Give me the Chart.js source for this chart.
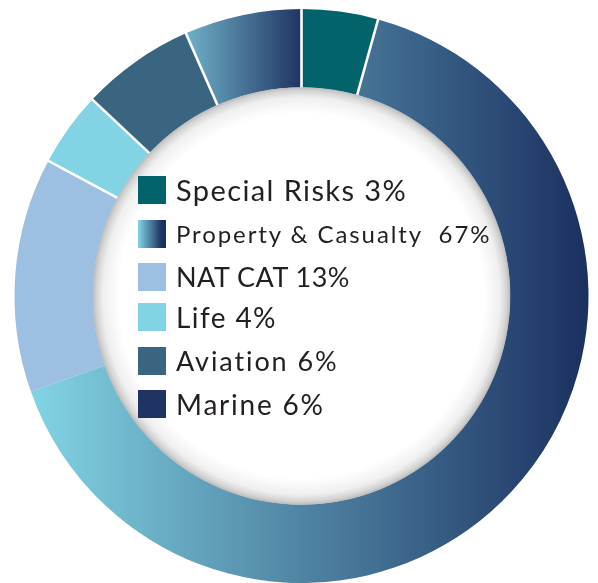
<!DOCTYPE html>
<html><head><meta charset="utf-8">
<script src="https://cdn.jsdelivr.net/npm/chart.js@4"></script>
<style>
html,body{margin:0;padding:0;background:#fff;}
#wrap{position:relative;width:598px;height:583px;overflow:hidden;}
#c{position:absolute;left:0;top:0;}
.item{position:absolute;left:138px;height:28px;display:flex;align-items:center;white-space:pre;}
.sw{width:28px;height:28px;margin-right:10px;flex:none;}
.lbl{font-family:Lato,sans-serif;color:#231f20;line-height:28px;}
</style></head>
<body><div id="wrap"><canvas id="c" width="598" height="583"></canvas><div id="legend"></div></div>
<script>
// ---- data ----
const categories = ['Special Risks', 'Property & Casualty', 'NAT CAT', 'Life', 'Aviation', 'Marine'];
const shareValues = [4.3, 65.3, 13.2, 4.2, 6.4, 6.6];
const legendLabels = ['Special Risks 3%', 'Property & Casualty  67%', 'NAT CAT 13%', 'Life 4%', 'Aviation 6%', 'Marine 6%'];

// ---- styles ----
const solidColors = ['#03636a', '#3d668b', '#9dbfe1', '#82d3e3', '#3a6581', '#1f3462'];
const gradientColors = [null, ['#82d4e4', '#1b3060'], null, null, null, ['#70b1c9', '#1f3462']];
const separatorBefore = [true, true, false, true, true, true];
const legendFontSizes = [29, 24, 27, 28, 27, 28];
const legendSpacing = [1.4, 1.9, 0.5, 1.4, 1.9, 1.8];
const legendTops = [176, 220, 263, 303, 347, 390];

function arcXRange(arc) {
  const p = arc.getProps(['x', 'startAngle', 'endAngle', 'innerRadius', 'outerRadius'], true);
  let mn = Infinity, mx = -Infinity;
  for (let k = 0; k <= 90; k++) {
    const a = p.startAngle + (p.endAngle - p.startAngle) * k / 90;
    for (const r of [p.innerRadius, p.outerRadius]) {
      const x = p.x + r * Math.cos(a);
      mn = Math.min(mn, x); mx = Math.max(mx, x);
    }
  }
  return [mn, mx];
}

const gradPlugin = {
  id: 'grad',
  beforeDatasetsDraw(chart) {
    const ctx = chart.ctx;
    chart.getDatasetMeta(0).data.forEach((arc, i) => {
      const g = gradientColors[i];
      if (!g) return;
      const [x0, x1] = arcXRange(arc);
      const lg = ctx.createLinearGradient(x0, 0, x1, 0);
      lg.addColorStop(0, g[0]);
      lg.addColorStop(1, g[1]);
      arc.options.backgroundColor = lg;
    });
  }
};

const decoPlugin = {
  id: 'deco',
  afterDatasetsDraw(chart) {
    const ctx = chart.ctx;
    const arcs = chart.getDatasetMeta(0).data;
    ctx.save();
    ctx.strokeStyle = '#ffffff';
    ctx.lineWidth = 2.6;
    arcs.forEach((arc, i) => {
      if (!separatorBefore[i]) return;
      const p = arc.getProps(['x', 'y', 'startAngle', 'innerRadius', 'outerRadius'], true);
      const a = p.startAngle;
      ctx.beginPath();
      ctx.moveTo(p.x + (p.innerRadius - 2) * Math.cos(a), p.y + (p.innerRadius - 2) * Math.sin(a));
      ctx.lineTo(p.x + (p.outerRadius + 2) * Math.cos(a), p.y + (p.outerRadius + 2) * Math.sin(a));
      ctx.stroke();
    });
    const p0 = arcs[0].getProps(['x', 'y', 'innerRadius'], true);
    const R = p0.innerRadius;
    const rg = ctx.createRadialGradient(p0.x, p0.y, 0, p0.x, p0.y, R);
    rg.addColorStop(0, '#ffffff');
    rg.addColorStop((R - 26) / R, '#ffffff');
    rg.addColorStop((R - 10) / R, '#efefef');
    rg.addColorStop((R - 3) / R, '#d2d2d2');
    rg.addColorStop(1, '#bcbcbc');
    ctx.beginPath();
    ctx.arc(p0.x, p0.y, R + 0.3, 0, Math.PI * 2);
    ctx.fillStyle = rg;
    ctx.fill();
    ctx.restore();
  }
};

new Chart(document.getElementById('c'), {
  type: 'doughnut',
  data: {
    labels: categories,
    datasets: [{ data: shareValues, backgroundColor: solidColors, borderWidth: 0 }]
  },
  options: {
    responsive: false,
    animation: false,
    cutout: '72.65%',
    layout: { padding: { left: 5, right: 0, top: 9, bottom: 0 } },
    plugins: { legend: { display: false }, tooltip: { enabled: false } }
  },
  plugins: [gradPlugin, decoPlugin]
});

// ---- legend (HTML) ----
const legend = document.getElementById('legend');
legendLabels.forEach((txt, i) => {
  const item = document.createElement('div');
  item.className = 'item';
  item.style.top = legendTops[i] + 'px';
  const sw = document.createElement('div');
  sw.className = 'sw';
  const g = gradientColors[i];
  sw.style.background = (i === 1 && g) ? `linear-gradient(to right, ${g[0]}, ${g[1]} 85%)` : solidColors[i];
  if (i === 5) sw.style.background = '#1f3462';
  const lb = document.createElement('span');
  lb.className = 'lbl';
  lb.style.fontSize = legendFontSizes[i] + 'px';
  lb.style.letterSpacing = legendSpacing[i] + 'px';
  lb.textContent = txt;
  item.appendChild(sw);
  item.appendChild(lb);
  legend.appendChild(item);
});
</script>
</body></html>
